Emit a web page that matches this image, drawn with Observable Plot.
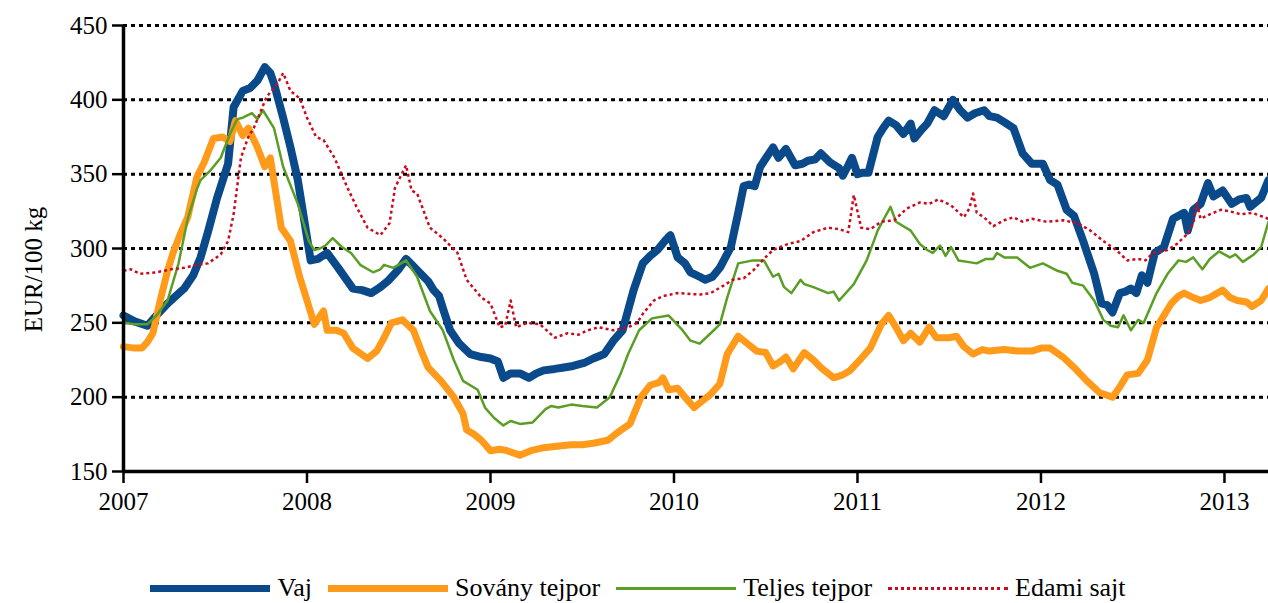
<!DOCTYPE html>
<html>
<head>
<meta charset="utf-8">
<script src="https://cdn.jsdelivr.net/npm/d3@7"></script>
<script src="https://cdn.jsdelivr.net/npm/@observablehq/plot@0.6"></script>
<style>
  body { margin: 0; background: #fff; font-family: "Liberation Serif", "Times New Roman", "DejaVu Serif", serif; }
  #legend { display: flex; justify-content: center; align-items: center; margin-top: 58px; height: 30px; font-size: 26px; color: #000; padding-left: 8px; }
  .item { display: flex; align-items: center; margin: 0 8px; }
  .sw { width: 120px; margin-right: 7px; }
</style>
</head>
<body>
<div id="chart"></div>
<div id="legend"></div>
<script>
const seriesNames = ["Vaj", "Sovány tejpor", "Teljes tejpor", "Edami sajt"];
const yTicks = [150, 200, 250, 300, 350, 400, 450];
const xTicks = [2007, 2008, 2009, 2010, 2011, 2012, 2013];
const yLabel = "EUR/100 kg";

const vajT = [2007.00,2007.06,2007.13,2007.18,2007.24,2007.33,2007.38,2007.42,2007.46,2007.51,2007.57,2007.60,2007.65,2007.69,2007.73,2007.77,2007.80,2007.82,2007.87,2007.91,2007.95,2008.02,2008.06,2008.11,2008.17,2008.25,2008.30,2008.35,2008.40,2008.44,2008.50,2008.54,2008.58,2008.62,2008.66,2008.69,2008.72,2008.74,2008.78,2008.83,2008.89,2008.95,2009.00,2009.04,2009.07,2009.11,2009.16,2009.21,2009.25,2009.29,2009.35,2009.40,2009.45,2009.51,2009.56,2009.62,2009.67,2009.72,2009.78,2009.83,2009.87,2009.91,2009.95,2009.98,2010.02,2010.06,2010.09,2010.14,2010.17,2010.21,2010.25,2010.31,2010.35,2010.38,2010.41,2010.44,2010.47,2010.54,2010.57,2010.61,2010.66,2010.70,2010.73,2010.77,2010.80,2010.85,2010.90,2010.92,2010.95,2010.97,2011.00,2011.03,2011.06,2011.11,2011.14,2011.17,2011.21,2011.25,2011.29,2011.31,2011.35,2011.38,2011.42,2011.47,2011.52,2011.56,2011.60,2011.64,2011.69,2011.72,2011.76,2011.80,2011.85,2011.90,2011.95,2012.01,2012.05,2012.09,2012.14,2012.18,2012.23,2012.29,2012.33,2012.36,2012.39,2012.43,2012.46,2012.49,2012.52,2012.55,2012.58,2012.62,2012.67,2012.72,2012.75,2012.78,2012.80,2012.83,2012.87,2012.91,2012.94,2012.99,2013.04,2013.08,2013.12,2013.14,2013.17,2013.20,2013.24];
const vajV = [255,251,248,255,263,273,282,294,311,334,357,395,406,408,413,422,418,411,388,368,346,292,293,297,287,273,272,270,274,278,286,293,288,283,278,272,268,260,245,236,229,227,226,224,213,216,216,213,216,218,219,220,221,223,226,229,238,245,272,290,295,299,305,309,294,290,284,281,279,281,287,301,324,342,343,342,355,368,361,367,356,357,359,360,364,358,354,349,356,361,350,351,351,375,381,386,383,377,384,374,380,384,393,389,400,393,388,391,393,389,388,385,381,364,357,357,346,343,326,322,305,283,263,262,257,270,271,273,270,282,277,297,301,320,322,324,312,326,330,344,335,339,330,333,334,328,331,334,346];

const sovT = [2007.00,2007.06,2007.10,2007.13,2007.16,2007.20,2007.24,2007.27,2007.31,2007.35,2007.40,2007.44,2007.49,2007.54,2007.58,2007.61,2007.65,2007.68,2007.73,2007.77,2007.80,2007.86,2007.91,2007.96,2008.04,2008.09,2008.11,2008.16,2008.20,2008.25,2008.33,2008.38,2008.42,2008.46,2008.52,2008.58,2008.62,2008.66,2008.73,2008.80,2008.85,2008.87,2008.91,2008.95,2009.00,2009.05,2009.09,2009.16,2009.22,2009.29,2009.36,2009.44,2009.50,2009.56,2009.64,2009.69,2009.76,2009.82,2009.87,2009.92,2009.94,2009.97,2010.02,2010.06,2010.11,2010.16,2010.20,2010.25,2010.29,2010.35,2010.40,2010.45,2010.50,2010.54,2010.58,2010.61,2010.65,2010.71,2010.76,2010.80,2010.87,2010.92,2010.96,2011.02,2011.07,2011.13,2011.17,2011.21,2011.25,2011.29,2011.34,2011.39,2011.43,2011.50,2011.54,2011.58,2011.63,2011.68,2011.72,2011.80,2011.87,2011.95,2012.00,2012.05,2012.12,2012.18,2012.25,2012.32,2012.39,2012.43,2012.47,2012.53,2012.58,2012.63,2012.71,2012.75,2012.78,2012.83,2012.87,2012.92,2012.99,2013.03,2013.07,2013.12,2013.15,2013.20,2013.24];
const sovV = [234,233,233,237,243,265,285,297,310,321,348,358,374,375,372,386,376,381,368,355,361,314,305,281,249,258,245,245,243,233,226,231,240,250,252,245,232,220,211,200,189,178,175,171,164,165,164,161,164,166,167,168,168,169,171,176,182,200,208,210,213,205,206,200,193,198,202,209,229,241,236,231,230,221,224,227,219,230,225,220,213,215,218,226,233,249,255,247,238,243,237,247,240,240,241,234,229,232,231,232,231,231,233,233,227,220,211,203,200,207,215,216,225,247,263,268,270,267,265,267,272,267,265,264,261,265,273];

const telT = [2007.00,2007.06,2007.13,2007.18,2007.24,2007.30,2007.35,2007.40,2007.42,2007.47,2007.53,2007.58,2007.62,2007.65,2007.70,2007.73,2007.76,2007.82,2007.87,2007.95,2008.01,2008.04,2008.07,2008.10,2008.14,2008.19,2008.24,2008.29,2008.36,2008.40,2008.42,2008.47,2008.54,2008.60,2008.67,2008.74,2008.80,2008.85,2008.93,2008.97,2009.02,2009.07,2009.11,2009.16,2009.23,2009.30,2009.33,2009.37,2009.44,2009.50,2009.58,2009.65,2009.71,2009.75,2009.81,2009.88,2009.97,2010.04,2010.09,2010.14,2010.20,2010.25,2010.29,2010.35,2010.43,2010.49,2010.54,2010.57,2010.60,2010.64,2010.69,2010.71,2010.76,2010.84,2010.87,2010.90,2010.98,2011.05,2011.11,2011.14,2011.18,2011.21,2011.29,2011.34,2011.38,2011.41,2011.45,2011.48,2011.51,2011.55,2011.60,2011.65,2011.70,2011.74,2011.76,2011.80,2011.87,2011.94,2012.01,2012.09,2012.14,2012.17,2012.23,2012.29,2012.34,2012.38,2012.42,2012.45,2012.49,2012.53,2012.56,2012.63,2012.69,2012.75,2012.79,2012.83,2012.88,2012.92,2012.97,2013.03,2013.06,2013.10,2013.16,2013.20,2013.24];
const telV = [250,249,249,255,265,290,320,340,346,352,361,377,387,388,391,387,393,381,355,330,305,299,300,302,307,301,297,289,284,286,289,287,292,281,258,245,225,211,205,193,186,181,184,182,183,192,194,193,195,194,193,200,216,229,245,253,255,246,238,236,243,249,267,290,292,292,281,283,274,270,279,276,274,270,271,265,276,292,312,319,328,318,312,303,299,297,302,295,301,292,291,290,293,293,297,294,294,287,290,285,283,277,275,265,252,248,247,255,245,252,250,270,283,292,291,294,286,293,298,294,296,291,296,301,318];

const edaT = [2007.00,2007.04,2007.09,2007.18,2007.26,2007.33,2007.40,2007.46,2007.53,2007.57,2007.60,2007.64,2007.68,2007.71,2007.76,2007.78,2007.84,2007.87,2007.91,2007.96,2008.00,2008.05,2008.09,2008.15,2008.22,2008.27,2008.33,2008.40,2008.45,2008.48,2008.54,2008.57,2008.60,2008.67,2008.74,2008.82,2008.87,2008.95,2009.00,2009.05,2009.08,2009.11,2009.14,2009.20,2009.27,2009.35,2009.42,2009.48,2009.53,2009.59,2009.67,2009.75,2009.80,2009.83,2009.89,2009.94,2010.02,2010.14,2010.20,2010.27,2010.32,2010.38,2010.43,2010.49,2010.54,2010.62,2010.69,2010.76,2010.84,2010.90,2010.95,2010.98,2011.02,2011.07,2011.13,2011.20,2011.27,2011.34,2011.39,2011.44,2011.51,2011.58,2011.61,2011.63,2011.65,2011.69,2011.74,2011.80,2011.85,2011.90,2011.95,2012.03,2012.12,2012.20,2012.27,2012.34,2012.41,2012.47,2012.53,2012.57,2012.61,2012.69,2012.74,2012.80,2012.83,2012.85,2012.87,2012.92,2012.98,2013.03,2013.09,2013.15,2013.24];
const edaV = [285,286,283,284,286,287,289,290,296,305,323,361,375,381,396,402,411,418,406,401,388,375,373,361,341,328,314,309,317,341,356,339,337,314,307,297,279,267,263,247,248,265,247,250,249,240,243,242,245,247,245,247,250,256,265,268,270,269,270,275,279,280,285,293,299,303,305,311,314,313,311,336,314,313,318,319,327,331,330,333,329,321,327,337,324,321,315,319,321,318,320,318,319,317,312,305,299,292,293,292,297,299,303,310,317,330,320,323,326,325,323,324,320];

const colors = ["#0a4a8a", "#ff9a1a", "#5a9e25", "#cc0a1e"];
const widths = [8, 7, 2.5, 2.5];
const dashes = [null, null, null, "3,3"];

const toRows = (t, v) => t.map((d, i) => ({t: d, v: v[i]}));
const rows = [toRows(vajT, vajV), toRows(sovT, sovV), toRows(telT, telV), toRows(edaT, edaV)];

const fontStack = "'Liberation Serif', 'Times New Roman', 'DejaVu Serif', serif";

const plot = Plot.plot({
  width: 1268,
  height: 515,
  marginLeft: 123,
  marginRight: 0,
  marginTop: 25,
  marginBottom: 44,
  style: { fontFamily: fontStack, fontSize: "25px", color: "#000", background: "#fff", overflow: "visible" },
  x: { type: "linear", domain: [2007, 2013.24] },
  y: { domain: [150, 450] },
  marks: [
    Plot.ruleY(yTicks.filter(d => d > 150), { stroke: "#000", strokeWidth: 3, strokeDasharray: "4,4" }),
    ...rows.map((r, i) => Plot.line(r, {
      x: "t", y: "v", stroke: colors[i], strokeWidth: widths[i],
      strokeDasharray: dashes[i], strokeLinejoin: "round", strokeLinecap: dashes[i] ? "butt" : "round"
    })),
    Plot.axisY({ ticks: yTicks, tickSize: 11, tickPadding: 5, strokeWidth: 2.5, label: null, fontSize: 25, fontFamily: fontStack }),
    Plot.axisX({ ticks: xTicks, tickFormat: d => String(d), tickSize: 12, tickPadding: 9, strokeWidth: 2.5, label: null, fontSize: 25, fontFamily: fontStack }),
    Plot.ruleX([2007], { stroke: "#000", strokeWidth: 3.5 }),
    Plot.ruleY([150], { stroke: "#000", strokeWidth: 3.5 }),
    Plot.text([yLabel], { text: d => d, frameAnchor: "left", dx: -90, dy: 21, rotate: -90, textAnchor: "middle", fontSize: 25, fontFamily: fontStack, fill: "#000" })
  ]
});
document.getElementById("chart").appendChild(plot);

const legend = document.getElementById("legend");
seriesNames.forEach((name, i) => {
  const item = document.createElement("div");
  item.className = "item";
  const sw = document.createElement("div");
  sw.className = "sw";
  if (dashes[i]) {
    sw.style.height = "0px";
    sw.style.borderTop = "3px dotted " + colors[i];
  } else {
    sw.style.height = (i < 2 ? 7 : 3) + "px";
    sw.style.background = colors[i];
  }
  const lab = document.createElement("span");
  lab.textContent = name;
  item.appendChild(sw);
  item.appendChild(lab);
  legend.appendChild(item);
});
</script>
</body>
</html>
